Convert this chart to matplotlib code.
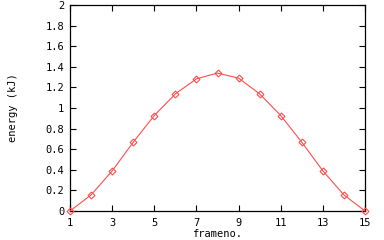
import matplotlib
matplotlib.use("Agg")
import matplotlib.pyplot as plt

frameno = [1, 2, 3, 4, 5, 6, 7, 8, 9, 10, 11, 12, 13, 14, 15]
energy = [0.0, 0.156, 0.389, 0.668, 0.927, 1.137, 1.283, 1.339, 1.290,
          1.137, 0.927, 0.668, 0.390, 0.156, 0.0]
xticks = [1, 3, 5, 7, 9, 11, 13, 15]
yticks = [0, 0.2, 0.4, 0.6, 0.8, 1, 1.2, 1.4, 1.6, 1.8, 2]

plt.rcParams["font.family"] = "DejaVu Sans Mono"
plt.rcParams["font.size"] = 7.5

fig = plt.figure(figsize=(3.84, 2.40), dpi=100)
ax = fig.add_axes([70 / 384, 1 - 211 / 240, 295 / 384, 206 / 240])
ax.plot(frameno, energy, color="#ff4d4d", lw=0.8, marker="D", ms=3.5,
        mfc="none", mec="#ff4d4d", mew=0.8, clip_on=False, zorder=3)
ax.set_xlim(1, 15)
ax.set_ylim(0, 2)
ax.set_xticks(xticks)
ax.set_yticks(yticks)
ax.set_yticklabels([f"{v:g}" for v in yticks])
ax.tick_params(direction="in", top=True, right=True, length=4, width=0.8)
ax.tick_params(axis="x", pad=5)
ax.tick_params(axis="y", pad=4)
for s in ax.spines.values():
    s.set_linewidth(0.9)
ax.set_xlabel("frameno.", labelpad=1)
ax.set_ylabel("energy (kJ)", labelpad=20)
fig.savefig("out.png", dpi=100)
